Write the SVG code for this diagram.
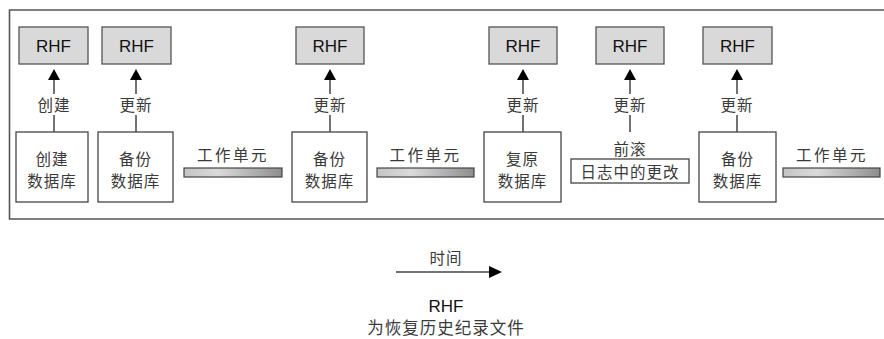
<svg xmlns="http://www.w3.org/2000/svg" width="884" height="339" viewBox="0 0 884 339">
<style>
.rhf{fill:#d9d9d9;stroke:#555;stroke-width:1.3}
.box{fill:#fff;stroke:#444;stroke-width:1.3}
.en{font-family:"Liberation Sans",Arial,sans-serif;font-size:17px;fill:#111;text-anchor:middle;dominant-baseline:central}
.cn{font-family:"Noto Sans CJK SC","Noto Sans CJK JP",sans-serif;font-size:15.5px;fill:#3a3a3a;text-anchor:middle;dominant-baseline:central;letter-spacing:1px}
.ln{stroke:#444;stroke-width:1.5;fill:none}
.bar{fill:url(#g);stroke:#444;stroke-width:1.2}
</style>
<defs>
<linearGradient id="g" x1="0" x2="1" y1="0" y2="0">
<stop offset="0" stop-color="#c4c4c4"/>
<stop offset="0.35" stop-color="#dadada"/>
<stop offset="1" stop-color="#8e8e8e"/>
</linearGradient>
</defs>
<rect width="884" height="339" fill="#fff"/>
<path d="M886,10 H9.5 V219 H886" fill="none" stroke="#555" stroke-width="1.6"/>

<g id="connectors">
<path class="ln" d="M54,80 V94 M54,115 V132"/>
<path d="M48,80 L54,69 L60,80 Z" fill="#000"/>
<path class="ln" d="M136,80 V94 M136,115 V132"/>
<path d="M130,80 L136,69 L142,80 Z" fill="#000"/>
<path class="ln" d="M330,80 V94 M330,115 V132"/>
<path d="M324,80 L330,69 L336,80 Z" fill="#000"/>
<path class="ln" d="M523,80 V94 M523,115 V132"/>
<path d="M517,80 L523,69 L529,80 Z" fill="#000"/>
<path class="ln" d="M630,80 V94 M630,115 V132"/>
<path d="M624,80 L630,69 L636,80 Z" fill="#000"/>
<path class="ln" d="M737,80 V94 M737,115 V132"/>
<path d="M731,80 L737,69 L743,80 Z" fill="#000"/>
<text class="cn" x="54" y="104">创建</text>
<text class="cn" x="136" y="104">更新</text>
<text class="cn" x="330" y="104">更新</text>
<text class="cn" x="523" y="104">更新</text>
<text class="cn" x="630" y="104">更新</text>
<text class="cn" x="737" y="104">更新</text>
</g>

<g id="rhf1"><rect class="rhf" x="19" y="27" width="69" height="37"/><text class="en" x="53.5" y="46">RHF</text></g>
<g id="rhf2"><rect class="rhf" x="102" y="27" width="69" height="37"/><text class="en" x="136.5" y="46">RHF</text></g>
<g id="rhf3"><rect class="rhf" x="296" y="27" width="68" height="37"/><text class="en" x="330" y="46">RHF</text></g>
<g id="rhf4"><rect class="rhf" x="489" y="27" width="68" height="37"/><text class="en" x="523" y="46">RHF</text></g>
<g id="rhf5"><rect class="rhf" x="596" y="27" width="68" height="37"/><text class="en" x="630" y="46">RHF</text></g>
<g id="rhf6"><rect class="rhf" x="703" y="27" width="69" height="37"/><text class="en" x="737.5" y="46">RHF</text></g>

<g id="db1"><rect class="box" x="16" y="132" width="72" height="70"/><text class="cn" x="52" y="158">创建</text><text class="cn" x="52" y="180">数据库</text></g>
<g id="db2"><rect class="box" x="98" y="132" width="75" height="70"/><text class="cn" x="135.5" y="158">备份</text><text class="cn" x="135.5" y="180">数据库</text></g>
<g id="work1"><text class="cn" x="233" y="154" style="letter-spacing:2.5px">工作单元</text><rect class="bar" x="184" y="168" width="98" height="9"/></g>
<g id="db3"><rect class="box" x="292" y="132" width="75" height="70"/><text class="cn" x="329.5" y="158">备份</text><text class="cn" x="329.5" y="180">数据库</text></g>
<g id="work2"><text class="cn" x="425.5" y="154" style="letter-spacing:2.5px">工作单元</text><rect class="bar" x="377" y="168" width="97" height="9"/></g>
<g id="db4"><rect class="box" x="484" y="132" width="77" height="70"/><text class="cn" x="522.5" y="158">复原</text><text class="cn" x="522.5" y="180">数据库</text></g>
<g id="rollforward"><text class="cn" x="630" y="148">前滚</text><rect class="box" x="571" y="159" width="118" height="24"/><text class="cn" x="630" y="171">日志中的更改</text></g>
<g id="db5"><rect class="box" x="699" y="132" width="77" height="70"/><text class="cn" x="737.5" y="158">备份</text><text class="cn" x="737.5" y="180">数据库</text></g>
<g id="work3"><text class="cn" x="832" y="154" style="letter-spacing:2.5px">工作单元</text><rect class="bar" x="783" y="168" width="97" height="9"/></g>

<g id="time">
<text class="cn" x="446" y="257">时间</text>
<path class="ln" d="M396,272 H491" stroke="#000"/>
<path d="M489,266 L502,272 L489,278 Z" fill="#000"/>
</g>
<g id="legend">
<text class="en" x="446" y="306">RHF</text>
<text class="cn" x="446" y="327" style="font-size:16.5px">为恢复历史纪录文件</text>
</g>
</svg>
